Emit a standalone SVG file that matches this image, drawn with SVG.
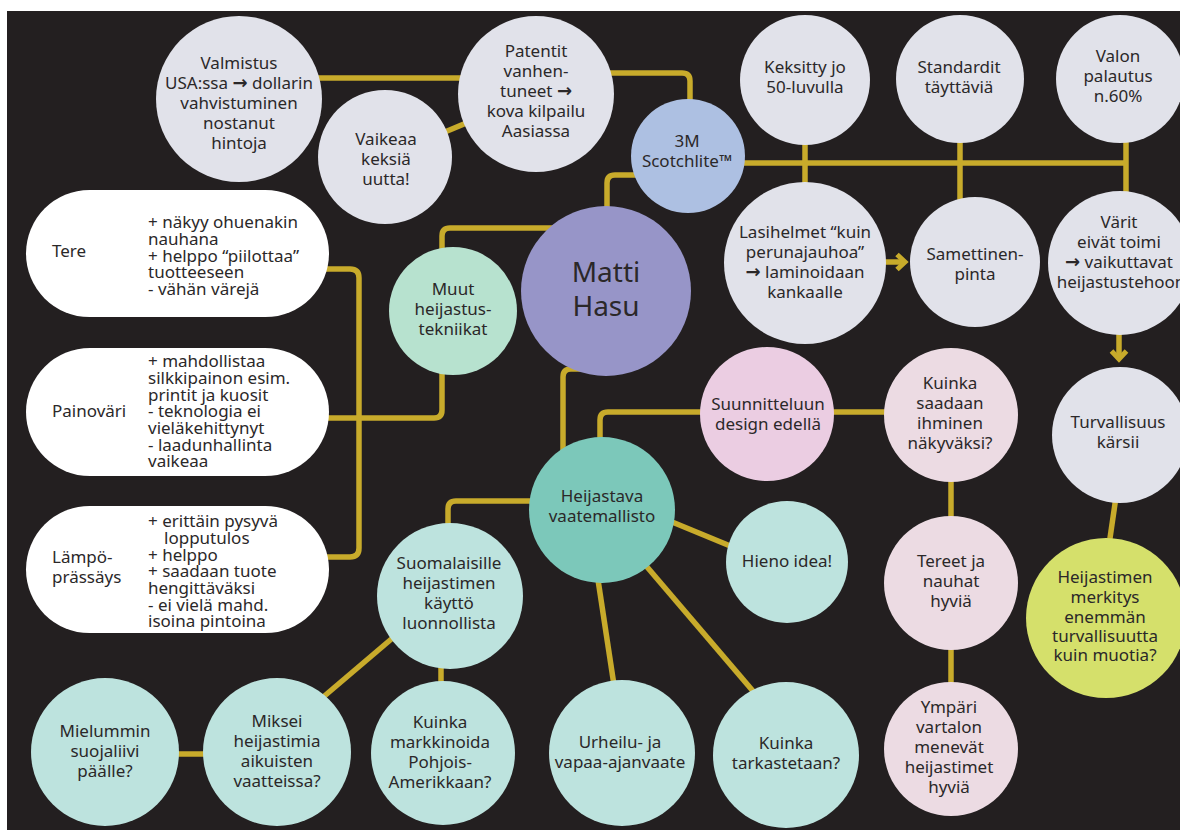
<svg xmlns="http://www.w3.org/2000/svg" width="1180" height="830" viewBox="0 0 1180 830">
<defs>
<style>
.bg{fill:#231f20}
.c{stroke:#c8ab2b;stroke-width:5.5;fill:none;stroke-linecap:butt;stroke-linejoin:round}
.t{font-family:"Noto Sans","Liberation Sans",sans-serif;font-size:17px;fill:#2b2829;text-anchor:middle}
.tl{font-family:"Noto Sans","Liberation Sans",sans-serif;font-size:17px;fill:#2b2829;text-anchor:start}
.ar{font-family:"DejaVu Sans",sans-serif;font-size:18px;font-weight:bold}
.big{font-size:28px}
.gray{fill:#e1e2ea}
.blue{fill:#adc0e2}
.purple{fill:#9795c8}
.mint{fill:#b7e2cf}
.teal{fill:#7cc8ba}
.lteal{fill:#bde3de}
.pink{fill:#ebcde2}
.lpink{fill:#ecdbe3}
.lime{fill:#d5e06b}
.white{fill:#ffffff}
</style>
<marker id="chev" markerUnits="userSpaceOnUse" markerWidth="20" markerHeight="20" viewBox="0 0 20 20" refX="12" refY="10" orient="auto">
<path d="M4,2.5 L12,10 L4,17.5" fill="none" stroke="#c8ab2b" stroke-width="5"/>
</marker>
</defs>
<rect x="0" y="0" width="1180" height="830" fill="#ffffff"/>
<rect class="bg" x="7" y="11" width="1173" height="819"/>

<g id="connectors">
<path class="c" d="M239,78 H536"/>
<path class="c" d="M536,73 H682 Q690,73 690,81 V156"/>
<path class="c" d="M385,157 L536,94"/>
<path class="c" d="M607,291 V183 Q607,175 615,175 H688"/>
<path class="c" d="M688,163 H1126"/>
<path class="c" d="M805,80 V263"/>
<path class="c" d="M960,79 V262"/>
<path class="c" d="M1126,79 V263"/>
<path class="c" d="M884,262 H905" marker-end="url(#chev)"/>
<path class="c" d="M1119,333 V359" marker-end="url(#chev)"/>
<path class="c" d="M1117,490 L1109,545"/>
<path class="c" d="M606,228 H450 Q442,228 442,236 V311"/>
<path class="c" d="M442,311 V410 Q442,418 434,418 H178"/>
<path class="c" d="M178,269 H350 Q359,269 359,278 V548 Q359,557 350,557 H178"/>
<path class="c" d="M590,369 H571 Q563,369 563,377 V480"/>
<path class="c" d="M951,412 H608 Q600,412 600,420 V500"/>
<path class="c" d="M951,415 V749"/>
<path class="c" d="M602,501 H456 Q448,501 448,509 V596"/>
<path class="c" d="M441,596 V753"/>
<path class="c" d="M315,704 L402,630"/>
<path class="c" d="M105,754 H277"/>
<path class="c" d="M660,517 L740,550"/>
<path class="c" d="M595,560 L617,705"/>
<path class="c" d="M630,547 L770,711"/>
</g>

<g id="valmistus"><circle class="gray" cx="239" cy="99" r="83"/>
<text class="t"><tspan x="239" y="69">Valmistus</tspan><tspan x="239" y="89">USA:ssa <tspan class="ar">→</tspan> dollarin</tspan><tspan x="239" y="109">vahvistuminen</tspan><tspan x="239" y="129">nostanut</tspan><tspan x="239" y="149">hintoja</tspan></text></g>

<g id="vaikeaa"><circle class="gray" cx="385" cy="157" r="67"/>
<text class="t"><tspan x="386" y="145">Vaikeaa</tspan><tspan x="386" y="165">keksiä</tspan><tspan x="386" y="185">uutta!</tspan></text></g>

<g id="patentit"><circle class="gray" cx="536" cy="94" r="78"/>
<text class="t"><tspan x="536" y="57">Patentit</tspan><tspan x="536" y="77">vanhen-</tspan><tspan x="536" y="97">tuneet <tspan class="ar">→</tspan></tspan><tspan x="536" y="117">kova kilpailu</tspan><tspan x="536" y="137">Aasiassa</tspan></text></g>

<g id="scotchlite"><circle class="blue" cx="688" cy="156" r="57"/>
<text class="t"><tspan x="687" y="147">3M</tspan><tspan x="687" y="167">Scotchlite™</tspan></text></g>

<g id="keksitty"><circle class="gray" cx="805" cy="80" r="65"/>
<text class="t"><tspan x="805" y="73">Keksitty jo</tspan><tspan x="805" y="93">50-luvulla</tspan></text></g>

<g id="standardit"><circle class="gray" cx="960" cy="79" r="64"/>
<text class="t"><tspan x="959" y="73">Standardit</tspan><tspan x="959" y="93">täyttäviä</tspan></text></g>

<g id="valon"><circle class="gray" cx="1120" cy="79" r="64"/>
<text class="t"><tspan x="1118" y="62">Valon</tspan><tspan x="1118" y="82">palautus</tspan><tspan x="1118" y="102">n.60%</tspan></text></g>

<g id="lasihelmet"><circle class="gray" cx="805" cy="263" r="81"/>
<text class="t"><tspan x="805" y="238">Lasihelmet “kuin</tspan><tspan x="805" y="258">perunajauhoa”</tspan><tspan x="805" y="278"><tspan class="ar">→</tspan> laminoidaan</tspan><tspan x="805" y="298">kankaalle</tspan></text></g>

<g id="samettinen"><circle class="gray" cx="975" cy="262" r="65"/>
<text class="t"><tspan x="975" y="260">Samettinen-</tspan><tspan x="975" y="280">pinta</tspan></text></g>

<g id="varit"><circle class="gray" cx="1120" cy="263" r="72"/>
<text class="t"><tspan x="1119" y="228">Värit</tspan><tspan x="1119" y="248">eivät toimi</tspan><tspan x="1119" y="268"><tspan class="ar">→</tspan> vaikuttavat</tspan><tspan x="1121" y="288">heijastustehoon</tspan></text></g>

<g id="turvallisuus"><circle class="gray" cx="1120" cy="435" r="68"/>
<text class="t"><tspan x="1118" y="428">Turvallisuus</tspan><tspan x="1118" y="448">kärsii</tspan></text></g>

<g id="merkitys"><circle class="lime" cx="1106" cy="618" r="80"/>
<text class="t"><tspan x="1105" y="583">Heijastimen</tspan><tspan x="1105" y="603">merkitys</tspan><tspan x="1105" y="623">enemmän</tspan><tspan x="1105" y="642">turvallisuutta</tspan><tspan x="1105" y="661">kuin muotia?</tspan></text></g>

<g id="matti"><circle class="purple" cx="606" cy="291" r="85"/>
<text class="t big"><tspan x="606" y="282">Matti</tspan><tspan x="606" y="316">Hasu</tspan></text></g>

<g id="muut"><circle class="mint" cx="453" cy="311" r="64"/>
<text class="t"><tspan x="453" y="295">Muut</tspan><tspan x="453" y="315">heijastus-</tspan><tspan x="453" y="335">tekniikat</tspan></text></g>

<g id="tere"><rect class="white" x="26" y="190" width="303" height="127" rx="63.5"/>
<text class="tl" x="52" y="257">Tere</text>
<text class="tl"><tspan x="148" y="228">+ näkyy ohuenakin</tspan><tspan x="148" y="245">nauhana</tspan><tspan x="148" y="262">+ helppo “piilottaa”</tspan><tspan x="148" y="278">tuotteeseen</tspan><tspan x="148" y="295">- vähän värejä</tspan></text></g>

<g id="painovari"><rect class="white" x="26" y="348" width="303" height="128" rx="64"/>
<text class="tl" x="52" y="417">Painoväri</text>
<text class="tl"><tspan x="148" y="367">+ mahdollistaa</tspan><tspan x="148" y="384">silkkipainon esim.</tspan><tspan x="148" y="401">printit ja kuosit</tspan><tspan x="148" y="417">- teknologia ei</tspan><tspan x="148" y="434">vieläkehittynyt</tspan><tspan x="148" y="451">- laadunhallinta</tspan><tspan x="148" y="467">vaikeaa</tspan></text></g>

<g id="lampo"><rect class="white" x="26" y="506" width="303" height="127" rx="63.5"/>
<text class="tl"><tspan x="52" y="563">Lämpö-</tspan><tspan x="52" y="583">prässäys</tspan></text>
<text class="tl"><tspan x="148" y="527">+ erittäin pysyvä</tspan><tspan x="164" y="544">lopputulos</tspan><tspan x="148" y="561">+ helppo</tspan><tspan x="148" y="577">+ saadaan tuote</tspan><tspan x="148" y="594">hengittäväksi</tspan><tspan x="148" y="611">- ei vielä mahd.</tspan><tspan x="148" y="627">isoina pintoina</tspan></text></g>

<g id="suunnitteluun"><circle class="pink" cx="767" cy="414" r="67"/>
<text class="t"><tspan x="768" y="410">Suunnitteluun</tspan><tspan x="768" y="430">design edellä</tspan></text></g>

<g id="kuinka-saadaan"><circle class="lpink" cx="951" cy="415" r="67"/>
<text class="t"><tspan x="950" y="389">Kuinka</tspan><tspan x="950" y="409">saadaan</tspan><tspan x="950" y="429">ihminen</tspan><tspan x="950" y="449">näkyväksi?</tspan></text></g>

<g id="tereet"><circle class="lpink" cx="951" cy="583" r="67"/>
<text class="t"><tspan x="951" y="567">Tereet ja</tspan><tspan x="951" y="587">nauhat</tspan><tspan x="951" y="607">hyviä</tspan></text></g>

<g id="ympari"><circle class="lpink" cx="951" cy="749" r="67"/>
<text class="t"><tspan x="949" y="713">Ympäri</tspan><tspan x="949" y="733">vartalon</tspan><tspan x="949" y="753">menevät</tspan><tspan x="949" y="773">heijastimet</tspan><tspan x="949" y="793">hyviä</tspan></text></g>

<g id="heijastava"><circle class="teal" cx="602" cy="510" r="73"/>
<text class="t"><tspan x="602" y="502">Heijastava</tspan><tspan x="602" y="522">vaatemallisto</tspan></text></g>

<g id="suomalaisille"><circle class="lteal" cx="450" cy="596" r="73"/>
<text class="t"><tspan x="449" y="569">Suomalaisille</tspan><tspan x="449" y="589">heijastimen</tspan><tspan x="449" y="609">käyttö</tspan><tspan x="449" y="629">luonnollista</tspan></text></g>

<g id="markkinoida"><circle class="lteal" cx="443" cy="753" r="72"/>
<text class="t"><tspan x="440" y="728">Kuinka</tspan><tspan x="440" y="748">markkinoida</tspan><tspan x="440" y="768">Pohjois-</tspan><tspan x="440" y="788">Amerikkaan?</tspan></text></g>

<g id="urheilu"><circle class="lteal" cx="622" cy="753" r="73"/>
<text class="t"><tspan x="620" y="748">Urheilu- ja</tspan><tspan x="620" y="768">vapaa-ajanvaate</tspan></text></g>

<g id="hieno"><circle class="lteal" cx="787" cy="562" r="61"/>
<text class="t" x="787" y="567">Hieno idea!</text></g>

<g id="tarkastetaan"><circle class="lteal" cx="786" cy="755" r="73"/>
<text class="t"><tspan x="786" y="749">Kuinka</tspan><tspan x="786" y="769">tarkastetaan?</tspan></text></g>

<g id="miksei"><circle class="lteal" cx="277" cy="752" r="74"/>
<text class="t"><tspan x="277" y="727">Miksei</tspan><tspan x="277" y="747">heijastimia</tspan><tspan x="277" y="767">aikuisten</tspan><tspan x="277" y="787">vaatteissa?</tspan></text></g>

<g id="mielummin"><circle class="lteal" cx="105" cy="752" r="74"/>
<text class="t"><tspan x="105" y="737">Mielummin</tspan><tspan x="105" y="757">suojaliivi</tspan><tspan x="105" y="777">päälle?</tspan></text></g>
</svg>
